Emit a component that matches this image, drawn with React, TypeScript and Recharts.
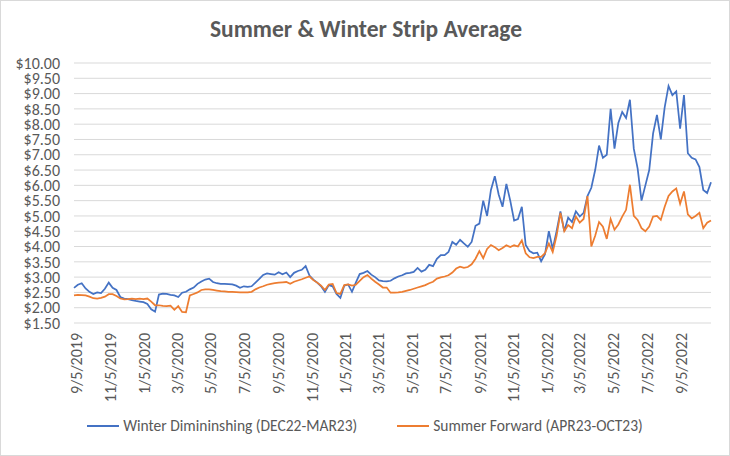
import { LineChart, Line, XAxis, YAxis, CartesianGrid, Legend } from "recharts"

// weekly samples, first one on 8/31/2019
const startDate = Date.UTC(2019, 7, 31)
const DAY = 86400000

const winterValues = [
  2.65, 2.75, 2.8, 2.63, 2.52, 2.45, 2.5, 2.48, 2.62, 2.82,
  2.65, 2.58, 2.35, 2.3, 2.28, 2.25, 2.22, 2.2, 2.18, 2.12,
  1.95, 1.87, 2.43, 2.46, 2.45, 2.42, 2.4, 2.35, 2.49, 2.52,
  2.6, 2.66, 2.78, 2.86, 2.92, 2.95, 2.84, 2.8, 2.78, 2.78,
  2.77, 2.76, 2.72, 2.65, 2.7, 2.68, 2.7, 2.82, 2.94, 3.07,
  3.12, 3.1, 3.08, 3.16, 3.09, 3.15, 3.0, 3.14, 3.2, 3.24,
  3.36, 3.05, 2.92, 2.82, 2.7, 2.52, 2.74, 2.7, 2.45, 2.32,
  2.72, 2.76, 2.52, 2.82, 3.1, 3.14, 3.2, 3.08, 3.0, 2.89,
  2.87, 2.86, 2.88, 2.96, 3.02, 3.06, 3.12, 3.14, 3.17, 3.3,
  3.18, 3.24, 3.4, 3.36, 3.6, 3.72, 3.72, 3.82, 4.15, 4.06,
  4.22, 4.1, 3.99, 4.15, 4.68, 4.75, 5.5, 5.0, 5.85, 6.3,
  5.7, 5.3, 6.05, 5.5, 4.85, 4.9, 5.3, 4.05, 3.85, 3.78,
  3.8, 3.52, 3.75, 4.5, 3.92, 4.5, 5.15, 4.5, 4.95, 4.8,
  5.15, 4.98, 5.1, 5.65, 5.92, 6.5, 7.3, 6.9, 7.0, 8.5,
  7.2, 8.04, 8.4, 8.2, 8.8, 7.2, 6.55, 5.5, 6.0, 6.5,
  7.7, 8.3, 7.5, 8.55, 9.25, 8.95, 9.07, 7.85, 8.95, 7.05,
  6.9, 6.85, 6.6, 5.85, 5.75, 6.1,
]

const summerValues = [
  2.4, 2.42, 2.41, 2.4, 2.36, 2.31, 2.3, 2.32, 2.36, 2.44,
  2.44, 2.38, 2.3, 2.27, 2.28, 2.3, 2.28, 2.3, 2.28, 2.3,
  2.2, 2.08, 2.08, 2.06, 2.05, 2.07, 1.93, 2.05, 1.86, 1.85,
  2.4, 2.45, 2.5, 2.58, 2.6, 2.6, 2.58, 2.56, 2.54, 2.53,
  2.52, 2.52, 2.51, 2.5, 2.5, 2.5, 2.52, 2.6, 2.66, 2.7,
  2.75, 2.78, 2.8, 2.82, 2.83, 2.84, 2.78, 2.85, 2.89, 2.93,
  2.98, 3.02, 2.9, 2.82, 2.72, 2.58, 2.76, 2.78, 2.48, 2.45,
  2.74, 2.76, 2.72, 2.75, 2.88, 3.0, 3.07, 2.95, 2.85, 2.76,
  2.66, 2.66, 2.49, 2.49, 2.5, 2.52, 2.55, 2.58, 2.62, 2.66,
  2.7, 2.74, 2.8, 2.85, 2.95, 2.99, 3.02, 3.06, 3.15, 3.28,
  3.34, 3.3, 3.33, 3.42, 3.6, 3.85, 3.62, 3.92, 4.05, 3.98,
  3.88, 3.95, 4.04, 3.98, 4.04, 4.0, 4.2, 3.78, 3.65, 3.62,
  3.66, 3.66, 3.78, 4.1, 3.82, 4.35, 5.1, 4.5, 4.7, 4.6,
  4.98, 4.78, 4.9, 5.65, 4.0, 4.35, 4.8, 4.65, 4.25, 4.9,
  4.55, 4.72, 4.98, 5.2, 6.02, 5.0, 4.87, 4.6, 4.5, 4.65,
  4.98, 5.0, 4.87, 5.3, 5.65, 5.8, 5.9, 5.4, 5.8, 5.05,
  4.92, 5.0, 5.1, 4.6, 4.78, 4.85,
]

const xTickLabels = [
  "9/5/2019", "11/5/2019", "1/5/2020", "3/5/2020", "5/5/2020", "7/5/2020",
  "9/5/2020", "11/5/2020", "1/5/2021", "3/5/2021", "5/5/2021", "7/5/2021",
  "9/5/2021", "11/5/2021", "1/5/2022", "3/5/2022", "5/5/2022", "7/5/2022",
  "9/5/2022",
]

const yTicks = [1.5, 2, 2.5, 3, 3.5, 4, 4.5, 5, 5.5, 6, 6.5, 7, 7.5, 8, 8.5, 9, 9.5, 10]

const parseDate = (s: string) => {
  const [m, d, y] = s.split("/").map(Number)
  return Date.UTC(y, m - 1, d)
}

const xTicks = xTickLabels.map(parseDate)

const data = winterValues.map((w, i) => ({
  t: startDate + i * 7 * DAY,
  winter: w,
  summer: summerValues[i],
}))

const FONT = "Carlito, Calibri, 'Liberation Sans', sans-serif"
const TEXT = "#595959"

const formatDate = (t: number) => {
  const d = new Date(t)
  return `${d.getUTCMonth() + 1}/${d.getUTCDate()}/${d.getUTCFullYear()}`
}

function DateTick({ x, y, payload }: any) {
  return (
    <text
      x={x}
      y={y}
      transform={`rotate(-90 ${x} ${y})`}
      textAnchor="end"
      dy="0.35em"
      fill={TEXT}
      fontSize={16}
      fontFamily={FONT}
    >
      {formatDate(payload.value)}
    </text>
  )
}

function LegendContent() {
  const items = [
    { label: "Winter Dimininshing (DEC22-MAR23)", color: "#4472C4" },
    { label: "Summer Forward (APR23-OCT23)", color: "#ED7D31" },
  ]
  return (
    <div style={{ display: "flex", justifyContent: "center", gap: 40, fontFamily: FONT }}>
      {items.map((it) => (
        <div key={it.label} style={{ display: "flex", alignItems: "center" }}>
          <div style={{ width: 32, height: 2, background: it.color, marginRight: 4 }} />
          <span style={{ fontSize: 15.5, color: TEXT }}>{it.label}</span>
        </div>
      ))}
    </div>
  )
}

export default function App() {
  return (
    <div
      style={{
        position: "absolute",
        left: 0,
        top: 0,
        width: 730,
        height: 456,
        boxSizing: "border-box",
        border: "1px solid #d9d9d9",
        background: "#fff",
      }}
    >
      <div
        style={{
          position: "absolute",
          top: 14,
          left: 0,
          width: 730,
          textAlign: "center",
          fontFamily: FONT,
          fontWeight: "bold",
          fontSize: 23.5,
          color: TEXT,
        }}
      >
        Summer &amp; Winter Strip Average
      </div>
      <div style={{ position: "absolute", left: -1, top: -1 }}>
        <LineChart
          width={730}
          height={456}
          data={data}
          margin={{ top: 63, right: 19, left: 0, bottom: 10 }}
        >
          <CartesianGrid vertical={false} stroke="#d9d9d9" />
          <XAxis
            dataKey="t"
            type="number"
            domain={[data[0].t, data[data.length - 1].t]}
            ticks={xTicks}
            tick={<DateTick />}
            tickLine={false}
            axisLine={false}
            tickSize={10}
            tickMargin={0}
            height={93}
            interval={0}
          />
          <YAxis
            domain={[1.5, 10]}
            ticks={yTicks}
            width={74}
            tickLine={false}
            axisLine={false}
            tickSize={0}
            tickMargin={14}
            interval={0}
            tickFormatter={(v: number) => `$${v.toFixed(2)}`}
            tick={{ fill: TEXT, fontSize: 16, fontFamily: FONT }}
          />
          <Legend
            verticalAlign="bottom"
            height={30}
            content={<LegendContent />}
            wrapperStyle={{ left: 0, width: 730 }}
          />
          <Line
            dataKey="winter"
            stroke="#4472C4"
            strokeWidth={1.75}
            dot={false}
            isAnimationActive={false}
          />
          <Line
            dataKey="summer"
            stroke="#ED7D31"
            strokeWidth={1.75}
            dot={false}
            isAnimationActive={false}
          />
        </LineChart>
      </div>
    </div>
  )
}
